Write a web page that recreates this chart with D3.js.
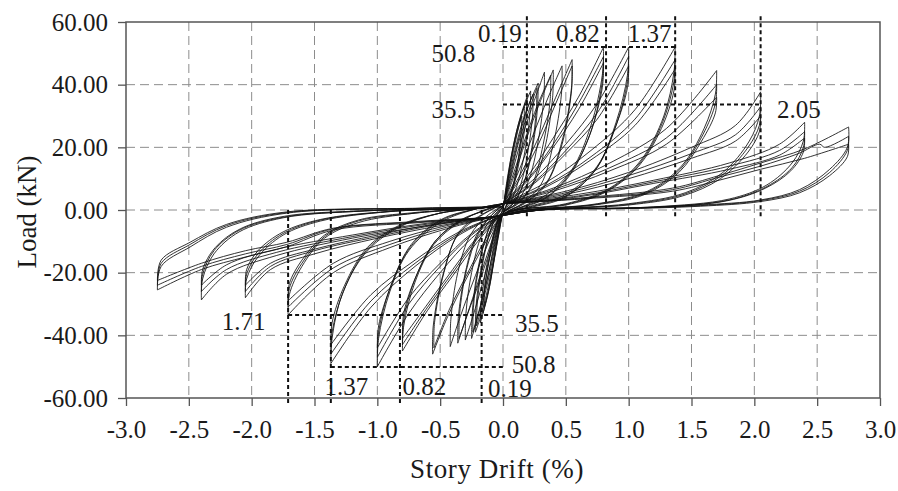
<!DOCTYPE html>
<html>
<head>
<meta charset="utf-8">
<script src="https://cdn.jsdelivr.net/npm/d3@7/dist/d3.min.js"></script>
<style>
  html, body { margin: 0; padding: 0; background: #fff; }
  svg { display: block; font-family: "Liberation Serif", "DejaVu Serif", serif; }
</style>
</head>
<body>
<svg id="chart" width="898" height="491"></svg>
<script>
// ── Axis ticks ─────────────────────────────────────────────────────────────
const xTicks = [-3.0, -2.5, -2.0, -1.5, -1.0, -0.5, 0.0, 0.5, 1.0, 1.5, 2.0, 2.5, 3.0];
const yTicks = [-60, -40, -20, 0, 20, 40, 60];

// ── Hysteresis cycles, [drift %, load kN] ───────────────────────────────────
const cyc015 = [[0,0],[0.03,7],[0.06,15],[0.1,23],[0.15,30],[0.145,25],[0.12,16],[0.08,8],[0.04,2.5],[0,-1],[-0.03,-7],[-0.07,-16],[-0.11,-25],[-0.15,-31],[-0.145,-25],[-0.11,-16],[-0.07,-8],[-0.03,-2.5],[0,0]];
const cyc017 = [[0,0],[0.03,8],[0.07,18],[0.12,27],[0.17,33],[0.165,27],[0.13,18],[0.09,9],[0.04,3],[0,-1],[-0.04,-8],[-0.08,-18],[-0.12,-27],[-0.16,-33],[-0.155,-27],[-0.12,-18],[-0.08,-9],[-0.04,-3],[0,0]];
const cyc019 = [[0,0],[0.03,9],[0.08,20],[0.14,30],[0.19,36],[0.185,30],[0.15,20],[0.1,10],[0.05,3],[0,-1],[-0.04,-9],[-0.09,-20],[-0.14,-30],[-0.18,-36],[-0.175,-30],[-0.14,-20],[-0.09,-10],[-0.04,-3],[0,0]];
const cyc022 = [[0,0],[0.04,10],[0.1,22],[0.16,32],[0.22,38],[0.215,31],[0.18,20],[0.12,9],[0.06,2.5],[0,-1],[-0.05,-10],[-0.11,-23],[-0.17,-33],[-0.22,-39],[-0.215,-31],[-0.18,-20],[-0.12,-9],[-0.06,-2.5],[0,1]];
const cyc024 = [[0,0.5],[0.04,9],[0.1,20],[0.17,30],[0.24,37],[0.235,30],[0.2,19],[0.14,8],[0.07,2],[0,-1],[-0.05,-9],[-0.11,-21],[-0.17,-31],[-0.21,-37],[-0.205,-30],[-0.17,-19],[-0.11,-8],[-0.05,-2],[0,0.5]];
const cyc027 = [[0,1],[0.05,9],[0.12,21],[0.2,31],[0.27,39],[0.265,32],[0.23,20],[0.16,8],[0.08,2],[0,-1],[-0.06,-9],[-0.12,-21],[-0.19,-32],[-0.24,-39],[-0.235,-31],[-0.2,-20],[-0.13,-8],[-0.06,-2],[0,1]];
const cyc028 = [[0,1],[0.05,10],[0.12,22],[0.2,33],[0.28,40.5],[0.275,33],[0.24,21],[0.17,9],[0.08,2],[0,-1],[-0.06,-10],[-0.13,-23],[-0.2,-34],[-0.25,-41],[-0.245,-33],[-0.21,-21],[-0.14,-9],[-0.07,-2],[0,1]];
const cyc033 = [[0,1],[0.06,10],[0.15,23],[0.25,35],[0.33,44],[0.325,36],[0.28,22],[0.2,9],[0.1,2],[0,-1],[-0.07,-10],[-0.16,-23],[-0.24,-34],[-0.30,-41.5],[-0.295,-33],[-0.25,-20],[-0.17,-8],[-0.08,-2],[0,1]];
const cyc038 = [[0,1.5],[0.07,10],[0.17,22],[0.28,34],[0.38,43],[0.375,35],[0.32,21],[0.23,8],[0.11,2],[0,-1],[-0.07,-9],[-0.18,-22],[-0.28,-33],[-0.35,-41],[-0.345,-33],[-0.29,-19],[-0.2,-8],[-0.1,-2],[0,1.5]];
const cyc040 = [[0,1.5],[0.08,10],[0.18,22],[0.3,35],[0.40,44.7],[0.395,36],[0.34,21],[0.25,9],[0.12,2],[0,-1],[-0.08,-9],[-0.19,-22],[-0.29,-34],[-0.36,-42.5],[-0.355,-34],[-0.3,-20],[-0.21,-8],[-0.1,-2],[0,1.5]];
const cyc047 = [[0,1.5],[0.1,10],[0.22,22],[0.36,36],[0.47,46],[0.465,37],[0.4,21],[0.3,8],[0.15,2],[0,-1.5],[-0.1,-9],[-0.22,-21],[-0.34,-34],[-0.42,-43.6],[-0.415,-35],[-0.36,-20],[-0.26,-8],[-0.13,-2],[0,1.5]];
const cyc055 = [[0,2],[0.12,10],[0.27,22],[0.42,36],[0.55,48],[0.545,39],[0.47,22],[0.35,9],[0.18,2.5],[0,-1.5],[-0.12,-9],[-0.28,-21],[-0.44,-34],[-0.56,-46],[-0.555,-37],[-0.48,-21],[-0.36,-8],[-0.18,-2],[0,2]];
const cyc055b = [[0,2],[0.12,9],[0.27,20],[0.42,34],[0.55,46],[0.545,38],[0.47,21],[0.34,8],[0.17,2],[0,-1.5],[-0.12,-8],[-0.28,-20],[-0.43,-32],[-0.55,-44],[-0.545,-36],[-0.47,-20],[-0.35,-7],[-0.17,-1.5],[0,2]];
const cyc080 = [[0,2],[0.2,11],[0.4,23],[0.6,36],[0.80,52],[0.79,43],[0.7,27],[0.55,13],[0.35,5],[0.15,1],[0,-1.5],[-0.2,-10],[-0.4,-21],[-0.6,-32],[-0.80,-45],[-0.79,-37],[-0.7,-23],[-0.55,-11],[-0.35,-4],[-0.15,0],[0,2]];
const cyc080b = [[0,2],[0.2,10],[0.4,21],[0.6,34],[0.8,49],[0.79,41],[0.7,25],[0.54,12],[0.34,4],[0.14,0.8],[0,-1.5],[-0.2,-9],[-0.4,-20],[-0.6,-31],[-0.8,-43],[-0.79,-35],[-0.7,-22],[-0.54,-10],[-0.34,-3.5],[-0.14,0],[0,2]];
const cyc080c = [[0,2],[0.2,9.5],[0.4,20],[0.6,32],[0.8,47],[0.79,39],[0.69,24],[0.53,11],[0.33,3.5],[0.13,0.5],[0,-1.5],[-0.2,-8.5],[-0.4,-19],[-0.6,-30],[-0.8,-41],[-0.79,-33],[-0.69,-21],[-0.53,-9.5],[-0.33,-3],[-0.13,0],[0,2]];
const cyc100 = [[0,2],[0.25,10],[0.5,21],[0.75,34],[1.0,52],[0.99,43],[0.9,28],[0.75,14],[0.5,5],[0.2,1],[0,-1.5],[-0.25,-9],[-0.5,-20],[-0.75,-33],[-1.0,-50],[-0.99,-41],[-0.9,-26],[-0.75,-13],[-0.5,-4],[-0.2,0.5],[0,2]];
const cyc100b = [[0,2],[0.25,9],[0.5,19],[0.75,31],[1.0,49],[0.99,41],[0.9,27],[0.74,13],[0.5,4.5],[0.2,0.8],[0,-1.5],[-0.25,-8],[-0.5,-18],[-0.75,-30],[-1.0,-47],[-0.99,-39],[-0.9,-25],[-0.74,-12],[-0.5,-3.5],[-0.2,0.5],[0,2]];
const cyc100c = [[0,2],[0.25,8.5],[0.5,18],[0.75,29],[1.0,46],[0.99,39],[0.89,26],[0.73,12.5],[0.49,4],[0.2,0.6],[0,-1.5],[-0.25,-7.5],[-0.5,-17],[-0.75,-28],[-1.0,-44],[-0.99,-37],[-0.89,-24],[-0.73,-11],[-0.49,-3],[-0.2,0.5],[0,2]];
const cyc137 = [[0,2],[0.35,9],[0.7,19],[1.05,32],[1.37,52],[1.36,44],[1.28,30],[1.1,16],[0.85,7],[0.5,2],[0.1,0],[-0.05,-2],[-0.35,-8],[-0.7,-18],[-1.05,-31],[-1.37,-49],[-1.36,-41],[-1.28,-27],[-1.1,-14],[-0.85,-6],[-0.5,-1],[-0.1,1],[0,2]];
const cyc137b = [[0,2],[0.35,8],[0.7,17],[1.05,29],[1.37,48],[1.36,41],[1.27,28],[1.09,15],[0.84,6.5],[0.5,1.8],[0.1,0],[-0.05,-2],[-0.35,-7.5],[-0.7,-17],[-1.05,-29],[-1.37,-46],[-1.36,-39],[-1.27,-26],[-1.09,-13],[-0.84,-5.5],[-0.5,-1],[-0.1,1],[0,2]];
const cyc137c = [[0,2],[0.35,7.5],[0.7,16],[1.05,27],[1.37,45],[1.36,38],[1.26,26],[1.08,14],[0.83,6],[0.5,1.6],[0.1,0],[-0.05,-2],[-0.35,-7],[-0.7,-16],[-1.05,-27],[-1.37,-43],[-1.36,-36],[-1.26,-24],[-1.08,-12],[-0.83,-5],[-0.5,-1],[-0.1,1],[0,2]];
const cyc170 = [[0,2],[0.4,7],[0.85,15],[1.3,26],[1.7,44.5],[1.69,37],[1.6,26],[1.42,14],[1.15,6],[0.75,2],[0.2,0],[-0.05,-2],[-0.45,-6],[-0.9,-12],[-1.35,-20],[-1.71,-33.5],[-1.7,-27],[-1.6,-18],[-1.42,-9],[-1.15,-4],[-0.7,-1],[-0.1,1],[0,2]];
const cyc170b = [[0,2],[0.4,6.5],[0.85,13.5],[1.3,23],[1.7,40],[1.69,34],[1.59,24],[1.41,13],[1.14,5.5],[0.74,1.8],[0.2,0],[-0.05,-2],[-0.45,-5.5],[-0.9,-11],[-1.35,-18.5],[-1.71,-31],[-1.7,-25],[-1.6,-17],[-1.42,-8.5],[-1.15,-3.5],[-0.7,-1],[-0.1,1],[0,2]];
const cyc170c = [[0,2],[0.4,6],[0.85,12.5],[1.3,21],[1.7,36],[1.69,31],[1.58,22],[1.4,12],[1.13,5],[0.73,1.6],[0.2,0],[-0.05,-2],[-0.45,-5],[-0.9,-10],[-1.35,-17],[-1.71,-29],[-1.7,-23.5],[-1.6,-16],[-1.42,-8],[-1.15,-3.2],[-0.7,-0.8],[-0.1,1],[0,2]];
const cyc205 = [[0,2],[0.5,6],[1.0,12],[1.5,20],[1.85,27],[2.05,37.7],[2.04,30],[1.96,22],[1.75,12],[1.45,5.5],[1.0,2],[0.3,0],[-0.05,-2],[-0.5,-5],[-1.0,-9],[-1.5,-14],[-1.85,-19],[-2.05,-28],[-2.04,-22],[-1.95,-15],[-1.75,-8],[-1.45,-3.5],[-0.9,-0.5],[-0.1,1],[0,2]];
const cyc205b = [[0,2],[0.5,5.5],[1.0,11],[1.5,18],[1.85,24],[2.05,33],[2.04,27],[1.95,20],[1.74,11],[1.44,5],[1.0,1.8],[0.3,0],[-0.05,-2],[-0.5,-4.5],[-1.0,-8.5],[-1.5,-13],[-1.85,-18],[-2.05,-26],[-2.04,-20.5],[-1.95,-14],[-1.75,-7.5],[-1.45,-3.2],[-0.9,-0.5],[-0.1,1],[0,2]];
const cyc205c = [[0,2],[0.5,5],[1.0,10],[1.5,16.5],[1.85,22],[2.05,30],[2.04,25],[1.95,18.5],[1.73,10],[1.43,4.5],[1.0,1.6],[0.3,0],[-0.05,-2],[-0.5,-4.2],[-1.0,-8],[-1.5,-12.5],[-1.85,-17],[-2.05,-24],[-2.04,-19],[-1.95,-13],[-1.75,-7],[-1.45,-3],[-0.9,-0.4],[-0.1,1],[0,2]];
const cyc240 = [[0,2],[0.6,5],[1.2,9.5],[1.8,15],[2.2,21],[2.4,28],[2.39,22],[2.3,15],[2.1,8],[1.8,3.5],[1.2,1],[0.3,0],[-0.05,-2],[-0.6,-5],[-1.2,-9],[-1.8,-14.5],[-2.2,-20.5],[-2.4,-28.7],[-2.39,-22],[-2.3,-14],[-2.1,-7],[-1.75,-2.5],[-1.1,-0.3],[-0.1,1],[0,2]];
const cyc240b = [[0,2],[0.6,4.5],[1.2,9],[1.8,14],[2.2,19],[2.4,25],[2.39,20],[2.3,13.5],[2.1,7.5],[1.8,3.2],[1.2,0.9],[0.3,0],[-0.05,-2],[-0.6,-4.5],[-1.2,-8.5],[-1.8,-13.5],[-2.2,-19],[-2.4,-26],[-2.39,-20.5],[-2.3,-13],[-2.1,-6.5],[-1.75,-2.3],[-1.1,-0.3],[-0.1,1],[0,2]];
const cyc240c = [[0,2],[0.6,4.2],[1.2,8.5],[1.8,13],[2.2,17.5],[2.4,23],[2.39,18.5],[2.29,12.5],[2.09,7],[1.79,3],[1.2,0.8],[0.3,0],[-0.05,-2],[-0.6,-4.2],[-1.2,-8],[-1.8,-12.5],[-2.2,-17.5],[-2.4,-24],[-2.39,-19],[-2.29,-12],[-2.09,-6],[-1.74,-2],[-1.1,-0.2],[-0.1,1],[0,2]];
const cyc275 = [[0,2],[0.66,4],[1.35,7],[1.72,11],[2.05,15],[2.4,19.5],[2.75,26.5],[2.74,20],[2.6,13],[2.36,6.5],[2.05,3.2],[1.57,1.6],[0.93,0.6],[0.2,0],[-0.05,-2],[-0.66,-4],[-1.35,-6.4],[-1.72,-11.7],[-2.05,-15],[-2.4,-19],[-2.75,-25.5],[-2.72,-18],[-2.49,-11.8],[-2.2,-5.5],[-1.72,-1],[-0.66,0.6],[0,1]];
const cyc275b = [[0,2],[0.66,3.8],[1.35,6.5],[1.72,10.5],[2.05,14],[2.35,18],[2.52,21],[2.56,20],[2.75,23.5],[2.74,19],[2.6,12],[2.36,6],[2.05,3],[1.57,1.4],[0.93,0.5],[0.2,0],[-0.05,-2],[-0.66,-3.8],[-1.35,-6],[-1.72,-11],[-2.05,-14],[-2.4,-18],[-2.75,-24],[-2.72,-17],[-2.49,-11],[-2.2,-5],[-1.72,-0.8],[-0.66,0.5],[0,1]];
const cyc275c = [[0,2],[0.66,3.6],[1.35,6],[1.72,9.5],[2.05,13],[2.4,16.5],[2.75,21],[2.74,17],[2.6,11],[2.36,5.5],[2.05,2.7],[1.57,1.2],[0.93,0.4],[0.2,0],[-0.05,-2],[-0.66,-3.6],[-1.35,-5.8],[-1.72,-10.3],[-2.05,-13],[-2.4,-17],[-2.75,-22.5],[-2.72,-16],[-2.49,-10.3],[-2.2,-4.6],[-1.72,-0.6],[-0.66,0.5],[0,1]];

const cycles = [cyc015, cyc017, cyc019, cyc022, cyc024, cyc027, cyc028, cyc033, cyc038, cyc040, cyc047,
  cyc055, cyc055b, cyc080, cyc080b, cyc080c, cyc100, cyc100b, cyc100c,
  cyc137, cyc137b, cyc137c, cyc170, cyc170b, cyc170c, cyc205, cyc205b, cyc205c,
  cyc240, cyc240b, cyc240c, cyc275, cyc275b, cyc275c];

// ── Dashed reference lines (drift %, load kN) ──────────────────────────────
const refVertical = [
  { drift: 0.19, from: -2, to: 62 }, { drift: 0.82, from: -2, to: 62 },
  { drift: 1.37, from: -2, to: 62 }, { drift: 2.05, from: -2, to: 62 },
  { drift: -0.17, from: 0, to: -62 }, { drift: -0.82, from: 0, to: -62 },
  { drift: -1.37, from: 0, to: -62 }, { drift: -1.71, from: 0, to: -62 }
];
const refHorizontal = [
  { load: 52, from: 0, to: 1.37 }, { load: 33.7, from: 0, to: 2.05 },
  { load: -33.5, from: -1.71, to: 0 }, { load: -50.1, from: -1.37, to: 0 }
];
const refLabels = [
  { text: '0.19', drift: 0.15, load: 53.6, anchor: 'end' },
  { text: '0.82', drift: 0.77, load: 53.6, anchor: 'end' },
  { text: '1.37', drift: 1.34, load: 53.6, anchor: 'end' },
  { text: '50.8', drift: -0.22, load: 47.2, anchor: 'end' },
  { text: '35.5', drift: -0.22, load: 29.4, anchor: 'end' },
  { text: '2.05', drift: 2.18, load: 29.4, anchor: 'start' },
  { text: '1.71', drift: -1.89, load: -38.3, anchor: 'end' },
  { text: '35.5', drift: 0.095, load: -38.9, anchor: 'start' },
  { text: '50.8', drift: 0.07, load: -52, anchor: 'start' },
  { text: '0.19', drift: -0.12, load: -59.7, anchor: 'start' },
  { text: '0.82', drift: -0.80, load: -59.2, anchor: 'start' },
  { text: '1.37', drift: -1.42, load: -59.2, anchor: 'start' }
];

// ── Layout ─────────────────────────────────────────────────────────────────
const svg = d3.select('#chart');
const x = d3.scaleLinear().domain([-3, 3]).range([126, 880]);
const y = d3.scaleLinear().domain([-60, 60]).range([398, 22]);

// grid
const grid = svg.append('g').attr('stroke', '#8c8c8c').attr('stroke-width', 1)
  .attr('stroke-dasharray', '9,5').attr('fill', 'none');
grid.selectAll('line.gx').data(xTicks.slice(1, -1)).join('line')
  .attr('x1', d => x(d)).attr('x2', d => x(d)).attr('y1', y(60)).attr('y2', y(-60));
grid.selectAll('line.gy').data(yTicks.slice(1, -1)).join('line')
  .attr('class', 'gy')
  .attr('x1', x(-3)).attr('x2', x(3)).attr('y1', d => y(d)).attr('y2', d => y(d));

// hysteresis curves: split each cycle at its two peaks so the reversals stay sharp
function branches(c) {
  const iMax = d3.maxIndex(c, d => d[0]);
  const iMin = d3.minIndex(c, d => d[0]);
  return [c.slice(0, iMax + 1), c.slice(iMax, iMin + 1), c.slice(iMin)];
}
const segs = cycles.flatMap(branches);
const line = d3.line().x(d => x(d[0])).y(d => y(d[1])).curve(d3.curveCatmullRom.alpha(0.5));
svg.append('g').selectAll('path').data(segs).join('path')
  .attr('d', line)
  .attr('fill', 'none')
  .attr('stroke', '#111')
  .attr('stroke-width', 1)
  .attr('stroke-opacity', 0.85);

// frame
svg.append('rect').attr('x', x(-3)).attr('y', y(60))
  .attr('width', x(3) - x(-3)).attr('height', y(-60) - y(60))
  .attr('fill', 'none').attr('stroke', '#555').attr('stroke-width', 1.5);

// axes
const xAxis = d3.axisBottom(x).tickValues(xTicks).tickSize(8);
const yAxis = d3.axisLeft(y).tickValues(yTicks).tickSize(8);
const gx = svg.append('g').attr('transform', `translate(0,${y(-60)})`).call(xAxis);
const gy = svg.append('g').attr('transform', `translate(${x(-3)},0)`).call(yAxis);
[gx, gy].forEach(g => {
  g.select('.domain').remove();
  g.selectAll('.tick line').attr('stroke', '#555').attr('stroke-width', 1.3);
  g.selectAll('.tick text').attr('fill', '#1a1a1a')
    .style('font-family', '"Liberation Serif", serif').style('font-size', '25px');
});
gx.selectAll('.tick text').attr('dy', '1.15em').text(d => d.toFixed(1));
gy.selectAll('.tick text').attr('x', -18).text(d => d.toFixed(2));

// dashed reference lines
const ref = svg.append('g').attr('stroke', '#111').attr('stroke-width', 2)
  .attr('stroke-dasharray', '4,3').attr('fill', 'none');
ref.selectAll('line.v').data(refVertical).join('line').attr('class', 'v')
  .attr('x1', d => x(d.drift)).attr('x2', d => x(d.drift))
  .attr('y1', d => y(d.from)).attr('y2', d => y(d.to));
ref.selectAll('line.h').data(refHorizontal).join('line').attr('class', 'h')
  .attr('x1', d => x(d.from)).attr('x2', d => x(d.to))
  .attr('y1', d => y(d.load)).attr('y2', d => y(d.load));

svg.append('g').selectAll('text').data(refLabels).join('text')
  .attr('x', d => x(d.drift)).attr('y', d => y(d.load))
  .attr('text-anchor', d => d.anchor)
  .attr('font-size', 25).attr('fill', '#1a1a1a')
  .text(d => d.text);

// axis titles
svg.append('text').attr('x', 497).attr('y', 478).attr('text-anchor', 'middle')
  .attr('font-size', 27).attr('letter-spacing', 0.6).attr('fill', '#1a1a1a').text('Story Drift (%)');
svg.append('text').attr('transform', 'translate(36,212) rotate(-90)')
  .attr('text-anchor', 'middle').attr('font-size', 27).attr('fill', '#1a1a1a').text('Load (kN)');
</script>
</body>
</html>
